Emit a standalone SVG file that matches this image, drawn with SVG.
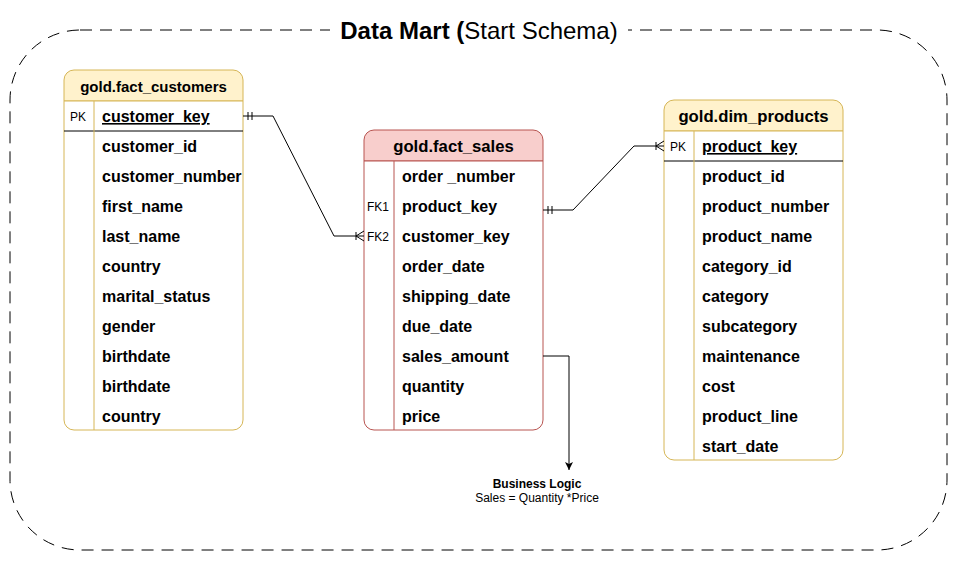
<svg xmlns="http://www.w3.org/2000/svg" width="957" height="561" viewBox="0 0 957 561">
<style>
text{font-family:"Liberation Sans",Arial,sans-serif;fill:#000}
.hd{font-size:15px;font-weight:bold;text-anchor:middle}
.hd2{font-size:16.7px;font-weight:bold;text-anchor:middle}
.row{font-size:16px;font-weight:bold}
.key{font-size:12px}
.y{fill:#fff2cc;stroke:#d6b656;stroke-width:1}
.yb{fill:#ffffff;stroke:#d6b656;stroke-width:1}
.r{fill:#f8cecc;stroke:#b85450;stroke-width:1}
.rb{fill:#ffffff;stroke:#b85450;stroke-width:1}
.ln{fill:none;stroke:#000;stroke-width:1}
</style>
<defs>
<marker id="arr" markerWidth="10" markerHeight="10" refX="9" refY="5" orient="auto" markerUnits="userSpaceOnUse">
<path d="M1,1 L9,5 L1,9 L3,5 Z" fill="#000"/>
</marker>
</defs>
<rect width="957" height="561" fill="#fff"/>
<g id="frame">
<rect x="10" y="30" width="937" height="520" rx="70" ry="70" fill="none" stroke="#000" stroke-width="1" stroke-dasharray="12 8"/>
<rect x="330" y="18" width="298" height="26" fill="#fff"/>
<text x="479" y="39" text-anchor="middle" font-size="24"><tspan font-weight="bold">Data Mart (</tspan>Start Schema)</text>
</g>
<g id="fact_customers">
<path class="y" d="M64,101 V80 a10,10 0 0 1 10,-10 H233 a10,10 0 0 1 10,10 V101 Z"/>
<path class="yb" d="M64,101 H243 V420 a10,10 0 0 1 -10,10 H74 a10,10 0 0 1 -10,-10 Z"/>
<line x1="64" y1="131" x2="243" y2="131" stroke="#000"/>
<line x1="94" y1="101" x2="94" y2="430" stroke="#d6b656"/>
<text class="hd" x="153.5" y="91.5">gold.fact_customers</text>
<text class="key" x="70" y="120.5">PK</text>
<text class="row" x="102" y="122" text-decoration="underline">customer_key</text>
<text class="row" x="102" y="152">customer_id</text>
<text class="row" x="102" y="182">customer_number</text>
<text class="row" x="102" y="212">first_name</text>
<text class="row" x="102" y="242">last_name</text>
<text class="row" x="102" y="272">country</text>
<text class="row" x="102" y="302">marital_status</text>
<text class="row" x="102" y="332">gender</text>
<text class="row" x="102" y="362">birthdate</text>
<text class="row" x="102" y="392">birthdate</text>
<text class="row" x="102" y="422">country</text>
</g>
<g id="fact_sales">
<path class="r" d="M364,161 V140 a10,10 0 0 1 10,-10 H533 a10,10 0 0 1 10,10 V161 Z"/>
<path class="rb" d="M364,161 H543 V420 a10,10 0 0 1 -10,10 H374 a10,10 0 0 1 -10,-10 Z"/>
<line x1="394" y1="161" x2="394" y2="430" stroke="#b85450"/>
<text class="hd2" x="453.5" y="152">gold.fact_sales</text>
<text class="row" x="402" y="182">order _number</text>
<text class="key" x="367" y="211">FK1</text>
<text class="row" x="402" y="212">product_key</text>
<text class="key" x="367" y="241">FK2</text>
<text class="row" x="402" y="242">customer_key</text>
<text class="row" x="402" y="272">order_date</text>
<text class="row" x="402" y="302">shipping_date</text>
<text class="row" x="402" y="332">due_date</text>
<text class="row" x="402" y="362">sales_amount</text>
<text class="row" x="402" y="392">quantity</text>
<text class="row" x="402" y="422">price</text>
</g>
<g id="dim_products">
<path class="y" d="M664,131 V110 a10,10 0 0 1 10,-10 H833 a10,10 0 0 1 10,10 V131 Z"/>
<path class="yb" d="M664,131 H843 V450 a10,10 0 0 1 -10,10 H674 a10,10 0 0 1 -10,-10 Z"/>
<line x1="664" y1="161" x2="843" y2="161" stroke="#000"/>
<line x1="694" y1="131" x2="694" y2="460" stroke="#d6b656"/>
<text class="hd2" x="753.5" y="122">gold.dim_products</text>
<text class="key" x="670" y="150.5">PK</text>
<text class="row" x="702" y="152" text-decoration="underline">product_key</text>
<text class="row" x="702" y="182">product_id</text>
<text class="row" x="702" y="212">product_number</text>
<text class="row" x="702" y="242">product_name</text>
<text class="row" x="702" y="272">category_id</text>
<text class="row" x="702" y="302">category</text>
<text class="row" x="702" y="332">subcategory</text>
<text class="row" x="702" y="362">maintenance</text>
<text class="row" x="702" y="392">cost</text>
<text class="row" x="702" y="422">product_line</text>
<text class="row" x="702" y="452">start_date</text>
</g>
<g id="connectors">
<polyline class="ln" points="243,116 273,116 334,236 364,236"/>
<path class="ln" d="M248,112 V120 M252,112 V120"/>
<path class="ln" d="M356,232 V240 M356,236 L364,231 M356,236 L364,241"/>
<polyline class="ln" points="543,210 573,210 634,146 664,146"/>
<path class="ln" d="M548,206 V214 M552,206 V214"/>
<path class="ln" d="M656,142 V150 M656,146 L664,141 M656,146 L664,151"/>
<polyline class="ln" points="543,356 569,356 569,470" marker-end="url(#arr)"/>
</g>
<g id="business_logic">
<text x="537" y="488" font-size="12" font-weight="bold" text-anchor="middle">Business Logic</text>
<text x="537" y="502" font-size="12" text-anchor="middle">Sales = Quantity *Price</text>
</g>
</svg>
